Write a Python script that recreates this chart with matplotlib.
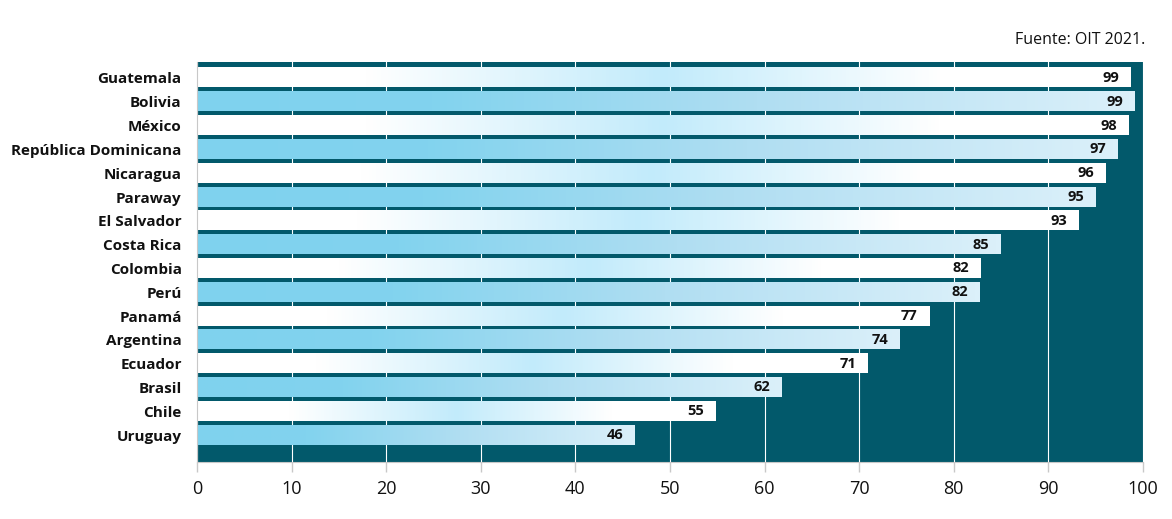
import numpy as np
import matplotlib
matplotlib.use('Agg')
import matplotlib.pyplot as plt
from matplotlib.colors import LinearSegmentedColormap

paises = ['Guatemala', 'Bolivia', 'México', 'República Dominicana', 'Nicaragua',
          'Paraway', 'El Salvador', 'Costa Rica', 'Colombia', 'Perú', 'Panamá',
          'Argentina', 'Ecuador', 'Brasil', 'Chile', 'Uruguay']
valores = [98.7, 99.1, 98.5, 97.3, 96.0, 95.0, 93.2, 84.9, 82.8, 82.7,
           77.4, 74.3, 70.9, 61.8, 54.8, 46.3]
etiquetas = ['99', '99', '98', '97', '96', '95', '93', '85', '82', '82',
             '77', '74', '71', '62', '55', '46']
ticks_x = [0, 10, 20, 30, 40, 50, 60, 70, 80, 90, 100]

fondo = '#02596b'
cmap_blanco = LinearSegmentedColormap.from_list(
    'blanco', [(0, '#ffffff'), (0.18, '#ffffff'), (0.5, '#c2ebfb'), (0.8, '#ffffff'), (1, '#ffffff')])
cmap_azul = LinearSegmentedColormap.from_list(
    'azul', [(0, '#7fd2ee'), (0.25, '#82d3ee'), (0.6, '#b0def2'), (1, '#dbf0fa')])

plt.rcParams['font.family'] = ['Open Sans', 'DejaVu Sans']

fig = plt.figure(figsize=(11.72, 5.19), dpi=100)
ax = fig.add_axes([197 / 1172, 1 - 462 / 519, 946 / 1172, 400 / 519])
ax.set_facecolor(fondo)

grad = np.linspace(0, 1, 256).reshape(1, -1)
alto = 0.8
for i, (v, lab) in enumerate(zip(valores, etiquetas)):
    cm = cmap_blanco if i % 2 == 0 else cmap_azul
    ax.imshow(grad, cmap=cm, aspect='auto', extent=(0, v, i + alto / 2, i - alto / 2),
              zorder=2, interpolation='bilinear')
    ax.text(v - 1.2, i, lab, ha='right', va='center', fontsize=10.5, fontweight='bold',
            color='#111111', zorder=3)

ax.set_xlim(0, 100)
ax.set_ylim(len(paises) - 1 + 1.13, -0.67)
ax.set_xticks(ticks_x)
ax.set_xticklabels([str(t) for t in ticks_x], fontsize=13, color='#111111')
ax.set_yticks(range(len(paises)))
ax.set_yticklabels(paises, fontsize=11, fontweight='bold', color='#111111')
ax.tick_params(axis='y', length=0, pad=11)
ax.tick_params(axis='x', length=7, color='#c8c8c8', width=1, pad=6)
ax.grid(axis='x', color='white', linewidth=0.8, zorder=1)
ax.set_axisbelow(True)
for s in ['top', 'right']:
    ax.spines[s].set_visible(False)
ax.spines['bottom'].set_color('#c8c8c8')
ax.spines['left'].set_color('#c8c8c8')

fig.text(1145 / 1172, 1 - 40 / 519, 'Fuente: OIT 2021.', ha='right', va='center',
         fontsize=11.5, color='#111111')

fig.savefig('out.png', dpi=100)
